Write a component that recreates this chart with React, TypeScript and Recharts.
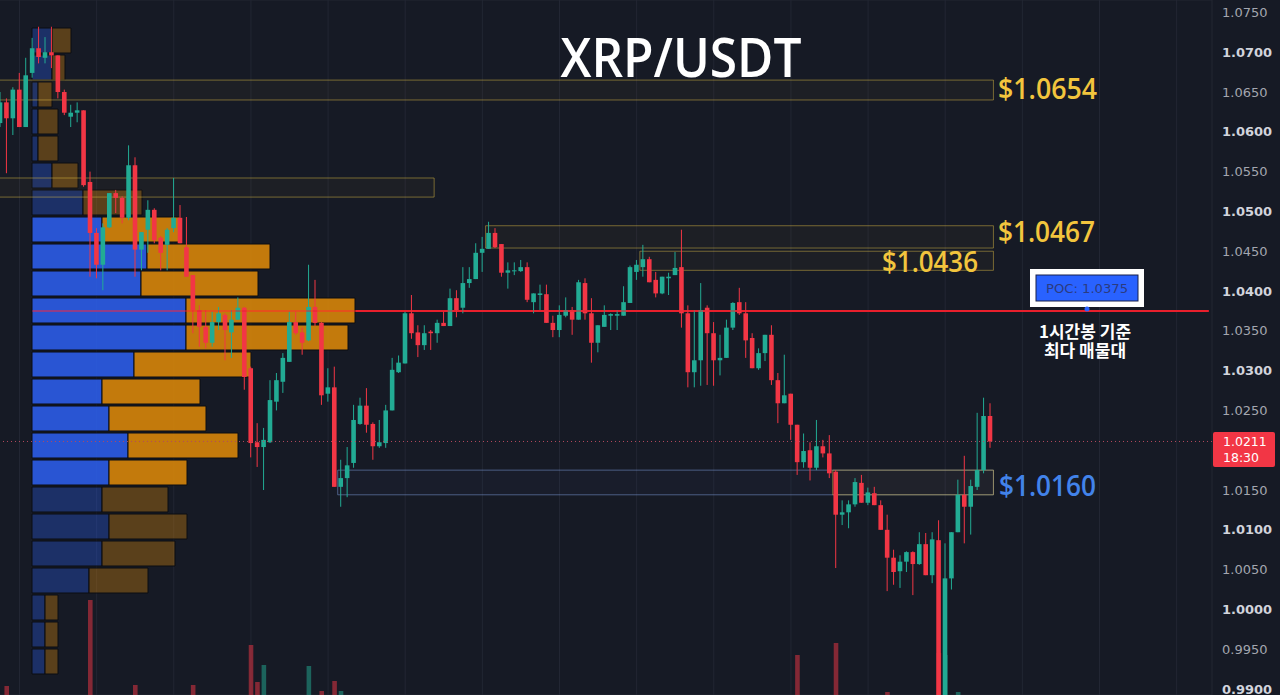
import React from 'react';
import {
  ComposedChart,
  BarChart,
  Bar,
  Cell,
  XAxis,
  YAxis,
  CartesianGrid,
  ReferenceArea,
  ReferenceLine,
} from 'recharts';

// 1h XRP/USDT candles (oldest first)
const opens = [
  1.0611, 1.0637, 1.0617, 1.0653, 1.0606, 1.0674, 1.0705, 1.0693, 1.07, 1.0696,
  1.065, 1.0619, 1.0624, 1.0627, 1.0537, 1.0473, 1.0433, 1.048, 1.0523, 1.0517,
  1.0492, 1.0558, 1.0452, 1.0477, 1.0502, 1.0467, 1.0458, 1.0479, 1.0492, 1.0455,
  1.042, 1.0376, 1.0355, 1.0335, 1.0361, 1.037, 1.0348, 1.0364, 1.0379, 1.0303,
  1.021, 1.0204, 1.021, 1.0261, 1.0286, 1.0311, 1.0361, 1.0348, 1.0338, 1.038,
  1.036, 1.0271, 1.0279, 1.0154, 1.0165, 1.0184, 1.0233, 1.0256, 1.0233, 1.0205,
  1.0209, 1.025, 1.0298, 1.0309, 1.0372, 1.0348, 1.0332, 1.0349, 1.0347, 1.036,
  1.0356, 1.0391, 1.0379, 1.041, 1.0415, 1.0448, 1.0453, 1.0473, 1.0459, 1.0423,
  1.0425, 1.0425, 1.043, 1.0386, 1.0395, 1.0396, 1.036, 1.0351, 1.0369, 1.0376,
  1.0364, 1.041, 1.0372, 1.0335, 1.0355, 1.0369, 1.0369, 1.0369, 1.0385, 1.0424,
  1.043, 1.044, 1.0414, 1.0397, 1.0416, 1.042, 1.043, 1.0372, 1.0298, 1.0313,
  1.0379, 1.0347, 1.0313, 1.0316, 1.0354, 1.0386, 1.0372, 1.0341, 1.0303, 1.0322,
  1.0345, 1.0288, 1.0259, 1.0271, 1.0232, 1.0185, 1.02, 1.0178, 1.0205, 1.0196,
  1.0173, 1.0119, 1.0122, 1.0132, 1.0159, 1.0134, 1.0146, 1.0131, 1.01, 1.0065,
  1.0048, 1.006, 1.0072, 1.0057, 1.0082, 1.0043, 1.0087, 0.9892, 1.0039, 1.0097,
  1.0144, 1.0129, 1.0154, 1.0175, 1.0243,
];
const highs = [
  1.065, 1.0642, 1.0656, 1.0674, 1.0693, 1.0718, 1.0732, 1.0719, 1.0732, 1.0696,
  1.0653, 1.0634, 1.0637, 1.0627, 1.055, 1.0479, 1.0485, 1.0523, 1.0527, 1.0519,
  1.0583, 1.0568, 1.0474, 1.0514, 1.0504, 1.0469, 1.0479, 1.0542, 1.0508, 1.0493,
  1.042, 1.0382, 1.0376, 1.0374, 1.038, 1.0372, 1.0376, 1.0392, 1.038, 1.0305,
  1.0234, 1.0228, 1.0288, 1.0297, 1.0322, 1.0374, 1.0374, 1.0354, 1.0433, 1.0414,
  1.0361, 1.0303, 1.0305, 1.0188, 1.0204, 1.0257, 1.0266, 1.0278, 1.0235, 1.0238,
  1.0257, 1.0316, 1.0319, 1.0374, 1.0395, 1.0357, 1.0357, 1.0351, 1.0364, 1.0374,
  1.0403, 1.0401, 1.043, 1.043, 1.046, 1.0468, 1.0487, 1.0479, 1.0459, 1.0436,
  1.0436, 1.0439, 1.0436, 1.0397, 1.0408, 1.0408, 1.0369, 1.0382, 1.0392, 1.038,
  1.0414, 1.0416, 1.0391, 1.0357, 1.0382, 1.0372, 1.0376, 1.0406, 1.0432, 1.0439,
  1.0458, 1.0443, 1.0424, 1.0418, 1.0423, 1.0449, 1.0477, 1.0382, 1.0376, 1.041,
  1.0382, 1.0361, 1.0345, 1.0364, 1.0386, 1.0404, 1.0386, 1.0347, 1.0328, 1.0345,
  1.0357, 1.0297, 1.032, 1.0271, 1.0232, 1.0221, 1.021, 1.0238, 1.0213, 1.0219,
  1.0175, 1.0137, 1.0137, 1.0165, 1.0169, 1.0153, 1.0154, 1.0137, 1.0119, 1.0075,
  1.0068, 1.0073, 1.0073, 1.0097, 1.0096, 1.0097, 1.0112, 1.0083, 1.0097, 1.0163,
  1.0193, 1.0163, 1.0247, 1.0266, 1.0259,
];
const lows = [
  1.0606, 1.0548, 1.0596, 1.0606, 1.0606, 1.0668, 1.0686, 1.0686, 1.068, 1.0642,
  1.0621, 1.0606, 1.0612, 1.0531, 1.0418, 1.0416, 1.0401, 1.0479, 1.0498, 1.0485,
  1.0489, 1.0418, 1.0426, 1.0448, 1.046, 1.0426, 1.0426, 1.0474, 1.046, 1.0418,
  1.0347, 1.033, 1.0328, 1.033, 1.0351, 1.0313, 1.0316, 1.0364, 1.0276, 1.0191,
  1.0179, 1.015, 1.0209, 1.025, 1.0272, 1.0311, 1.0345, 1.032, 1.0337, 1.0356,
  1.0257, 1.0261, 1.0154, 1.0129, 1.0141, 1.0178, 1.0232, 1.0222, 1.0188, 1.0203,
  1.0203, 1.025, 1.0297, 1.0309, 1.034, 1.0317, 1.0326, 1.0326, 1.0335, 1.0356,
  1.0356, 1.0367, 1.0372, 1.0404, 1.0415, 1.0424, 1.0453, 1.0454, 1.0418, 1.0403,
  1.042, 1.0424, 1.0386, 1.0372, 1.0376, 1.036, 1.0342, 1.0342, 1.0367, 1.0345,
  1.0364, 1.0364, 1.031, 1.0323, 1.0355, 1.0351, 1.0351, 1.0369, 1.0385, 1.0414,
  1.0418, 1.0411, 1.0392, 1.0396, 1.0395, 1.042, 1.0354, 1.0279, 1.0279, 1.0281,
  1.0282, 1.0281, 1.0294, 1.0316, 1.0351, 1.037, 1.0316, 1.0303, 1.0301, 1.0312,
  1.0282, 1.0234, 1.0259, 1.0213, 1.0169, 1.0178, 1.0162, 1.0175, 1.0191, 1.0165,
  1.0052, 1.0106, 1.0102, 1.0129, 1.0134, 1.0131, 1.0131, 1.01, 1.0023, 1.0031,
  1.0027, 1.0047, 1.0018, 1.0056, 1.0043, 1.0033, 0.989, 0.989, 1.0025, 1.0097,
  1.0083, 1.0094, 1.015, 1.0171, 1.0203,
];
const closes = [
  1.0637, 1.0617, 1.0653, 1.0606, 1.0671, 1.0705, 1.0694, 1.07, 1.0696, 1.065,
  1.0624, 1.0624, 1.0627, 1.0533, 1.0473, 1.0433, 1.048, 1.0523, 1.0517, 1.0492,
  1.0558, 1.0452, 1.0474, 1.0502, 1.0464, 1.0448, 1.0477, 1.0492, 1.046, 1.0418,
  1.0376, 1.0355, 1.0335, 1.0361, 1.0372, 1.0351, 1.0364, 1.0379, 1.0292, 1.0209,
  1.0204, 1.0213, 1.0263, 1.0288, 1.0316, 1.0361, 1.0347, 1.0335, 1.038, 1.036,
  1.0269, 1.0279, 1.0154, 1.0165, 1.0181, 1.0238, 1.0256, 1.0232, 1.0205, 1.021,
  1.025, 1.0301, 1.031, 1.0372, 1.0347, 1.0332, 1.0347, 1.0347, 1.036, 1.0356,
  1.0391, 1.0376, 1.041, 1.0415, 1.0448, 1.0453, 1.0473, 1.0455, 1.0423, 1.0426,
  1.0426, 1.043, 1.0389, 1.0397, 1.0397, 1.036, 1.0351, 1.037, 1.0376, 1.0364,
  1.0411, 1.0372, 1.0335, 1.0357, 1.037, 1.0371, 1.0371, 1.0386, 1.043, 1.0433,
  1.044, 1.0411, 1.0397, 1.0418, 1.0418, 1.0429, 1.0372, 1.0298, 1.0313, 1.0376,
  1.0347, 1.0313, 1.0316, 1.0354, 1.0385, 1.0372, 1.0338, 1.0303, 1.0322, 1.0345,
  1.0288, 1.0259, 1.0269, 1.0232, 1.0185, 1.0199, 1.0178, 1.0205, 1.0196, 1.0171,
  1.0119, 1.0122, 1.0132, 1.016, 1.0134, 1.0147, 1.0131, 1.01, 1.0065, 1.0047,
  1.006, 1.0072, 1.0057, 1.0082, 1.0043, 1.0088, 0.9892, 1.0039, 1.0097, 1.0144,
  1.0129, 1.0155, 1.0175, 1.0243, 1.0211,
];

// only the volume bars whose tops reach into the visible pane
const volumeAt = [1, 14, 21, 30, 39, 40, 41, 48, 50, 52, 53, 124, 130, 138, 146, 147, 149];
const volumeValues = [9, 95, 10, 10, 50, 13, 30, 29, 4, 14, 4, 40, 52, 3, 42, 40, 3];

const priceTicks = [
  0.99, 0.995, 1.0, 1.005, 1.01, 1.015, 1.02, 1.025, 1.03, 1.035, 1.04, 1.045,
  1.05, 1.055, 1.06, 1.065, 1.07, 1.075,
];
const gridCandles = [3, 15, 27, 39, 51, 63, 75, 87, 99, 111, 123, 135, 147, 159, 171, 183];

// volume profile rows, top row (1.0732) first
const profileBuy = [20, 20, 6, 6, 6, 20, 51, 70, 115, 109, 154, 154, 102, 70, 77, 96, 77, 70, 77, 70, 57, 13, 13, 13];
const profileSell = [19, 13, 14, 20, 20, 26, 59, 78, 123, 117, 169, 162, 117, 98, 97, 110, 78, 66, 78, 73, 59, 13, 13, 13];
const VALUE_AREA = [7, 16];

const zones = [
  { from: 0, to: 154, top: 1.0665, bottom: 1.064, kind: 'yellow' },
  { from: 0, to: 67, top: 1.0542, bottom: 1.0518, kind: 'yellow' },
  { from: 76, to: 154, top: 1.0482, bottom: 1.0454, kind: 'yellow' },
  { from: 100, to: 154, top: 1.045, bottom: 1.0426, kind: 'yellow' },
  { from: 53, to: 154, top: 1.0175, bottom: 1.0144, kind: 'blue' },
  { from: 130, to: 154, top: 1.0175, bottom: 1.0144, kind: 'yellow' },
];

const POC = 1.0375;
const POC_FROM = 5;
const LAST_PRICE = 1.0211;

const SLOTS = 189;
const W = 1283;
const H = 695;
const BG = '#161a25';
const UP = '#22ab94';
const DOWN = '#f23645';
const POC_RED = '#e8202c';
const BODY_W = 4.6;
const PRICE_DOMAIN = [0.98925, 1.07656];

const data = Array.from({ length: SLOTS }, (_, i) => {
  if (i >= opens.length) return { i };
  const v = volumeAt.indexOf(i);
  return {
    i,
    open: opens[i],
    high: highs[i],
    low: lows[i],
    close: closes[i],
    range: [lows[i], highs[i]],
    vol: v >= 0 ? volumeValues[v] : null,
  };
});

const profileData = profileBuy.map((b, k) => ({
  row: k,
  buy: b,
  sell: profileSell[k],
  dim: k < VALUE_AREA[0] || k > VALUE_AREA[1],
}));

const Candle = (props: any) => {
  const { x, y, width, height, payload } = props;
  if (!payload || payload.open == null || !isFinite(y) || !isFinite(height)) return null;
  const { open, close, high, low } = payload;
  const top = Math.min(y, y + height);
  const h = Math.abs(height);
  const pxPer = high > low ? h / (high - low) : 0;
  const bodyTop = top + (high - Math.max(open, close)) * pxPer;
  const bodyH = Math.max(1, Math.abs(open - close) * pxPer);
  const color = close >= open ? UP : DOWN;
  const cx = x + width / 2;
  return (
    <g>
      <line x1={cx} x2={cx} y1={top} y2={top + h} stroke={color} strokeWidth={1} />
      <rect x={cx - BODY_W / 2} y={bodyTop} width={BODY_W} height={bodyH} fill={color} />
    </g>
  );
};

const PriceTick = (props: any) => {
  const { x, y, payload } = props;
  const major = Math.round(payload.value * 1000) % 10 === 0;
  return (
    <text
      x={x}
      y={y}
      dy={4.5}
      textAnchor="start"
      fill={major ? '#d1d4dc' : '#a3a6af'}
      fontWeight={major ? 700 : 400}
      fontSize={13}
      fontFamily="'DejaVu Sans', sans-serif"
    >
      {payload.value.toFixed(4)}
    </text>
  );
};

const layer: React.CSSProperties = { position: 'absolute', left: -3, top: 0 };
const margin = { top: 0, right: 0, bottom: 0, left: 0 };
const pocSegment = [
  { x: POC_FROM, y: POC },
  { x: SLOTS - 1, y: POC },
];

const App: React.FC = () => {
  return (
    <div
      style={{
        position: 'absolute',
        left: 0,
        top: 0,
        width: 1280,
        height: 695,
        overflow: 'hidden',
        background: BG,
      }}
    >
      {/* bottom layer: grid and the POC line */}
      <div style={layer}>
        <ComposedChart width={W} height={H} data={data} margin={margin}>
          <CartesianGrid stroke="#222633" strokeWidth={1} />
          <XAxis dataKey="i" hide ticks={gridCandles} interval={0} />
          <YAxis orientation="right" width={68} domain={PRICE_DOMAIN} ticks={priceTicks} allowDataOverflow tick={false} axisLine={false} tickLine={false} />
          <ReferenceLine segment={pocSegment} stroke={POC_RED} strokeWidth={2} />
          <Bar dataKey="range" isAnimationActive={false} shape={() => null} />
        </ComposedChart>
      </div>

      {/* middle layer: volume profile (rows from 1.0732 down to 0.9918) */}
      <div style={layer}>
        <BarChart
          width={W}
          height={H}
          data={profileData}
          layout="vertical"
          margin={{ top: 27, right: 68, bottom: 20, left: 0 }}
          barCategoryGap={1}
        >
          <XAxis type="number" domain={[-35, 1180]} hide allowDataOverflow />
          <YAxis type="category" dataKey="row" hide />
          <Bar dataKey="buy" stackId="vp" barSize={25} isAnimationActive={false} stroke="#0b0d12" strokeWidth={1}>
            {profileData.map((d) => (
              <Cell key={`b-${d.row}`} fill="#2c5ff0" fillOpacity={d.dim ? 0.33 : 0.86} />
            ))}
          </Bar>
          <Bar dataKey="sell" stackId="vp" barSize={25} isAnimationActive={false} stroke="#0b0d12" strokeWidth={1}>
            {profileData.map((d) => (
              <Cell key={`s-${d.row}`} fill="#e08a08" fillOpacity={d.dim ? 0.34 : 0.86} />
            ))}
          </Bar>
        </BarChart>
      </div>

      {/* top layer: zones, candles, volume, price axis */}
      <div style={layer}>
        <ComposedChart width={W} height={H} data={data} margin={margin}>
          <XAxis dataKey="i" hide />
          <XAxis xAxisId="volx" dataKey="i" hide />
          <YAxis
            orientation="right"
            width={68}
            domain={PRICE_DOMAIN}
            ticks={priceTicks}
            interval={0}
            allowDataOverflow
            axisLine={false}
            tickLine={false}
            tickMargin={4}
            tick={<PriceTick />}
          />
          <YAxis yAxisId="vol" hide domain={[0, 695]} />

          {zones.map((z, k) => (
            <ReferenceArea
              key={`zone-${k}`}
              x1={z.from}
              x2={z.to}
              y1={z.bottom}
              y2={z.top}
              ifOverflow="hidden"
              fill={z.kind === 'blue' ? 'rgba(90,120,200,0.08)' : 'rgba(240,200,60,0.06)'}
              stroke={z.kind === 'blue' ? 'rgba(120,150,210,0.55)' : 'rgba(235,200,70,0.45)'}
              strokeWidth={1}
            />
          ))}

          {/* the POC line shows through the profile rows, tinted */}
          <ReferenceLine segment={pocSegment} stroke={POC_RED} strokeOpacity={0.45} strokeWidth={2} />
          <ReferenceLine y={LAST_PRICE} stroke="#b34a5e" strokeDasharray="1 3" strokeWidth={1} />

          <Bar xAxisId="volx" yAxisId="vol" dataKey="vol" barSize={4.6} isAnimationActive={false}>
            {data.map((d: any, k) => (
              <Cell key={`v-${k}`} fill={d.close >= d.open ? UP : DOWN} fillOpacity={0.5} />
            ))}
          </Bar>
          <Bar dataKey="range" barSize={6} isAnimationActive={false} shape={(p: any) => <Candle {...p} />} />
        </ComposedChart>
      </div>

      <svg
        width={1280}
        height={695}
        style={{ position: 'absolute', left: 0, top: 0, pointerEvents: 'none' }}
      >
        <text
          x={681}
          y={77}
          textAnchor="middle"
          fill="#ffffff"
          fontSize={54}
          fontWeight={600}
          fontFamily="'Open Sans', sans-serif"
          textLength={241}
          lengthAdjust="spacingAndGlyphs"
        >
          XRP/USDT
        </text>

        <g fontFamily="'Open Sans', sans-serif" fontSize={29} fontWeight={600}>
          <text x={998} y={99} fill="#f2c53d" textLength={99} lengthAdjust="spacingAndGlyphs">$1.0654</text>
          <text x={998} y={242} fill="#f2c53d" textLength={97} lengthAdjust="spacingAndGlyphs">$1.0467</text>
          <text x={882} y={272} fill="#f2c53d" textLength={96} lengthAdjust="spacingAndGlyphs">$1.0436</text>
          <text x={999} y={496} fill="#4283ea" textLength={97} lengthAdjust="spacingAndGlyphs">$1.0160</text>
        </g>

        <rect x={1030} y={269} width={114} height={38} fill="#ffffff" />
        <rect x={1036} y={275} width={102} height={26} fill="#2962ff" stroke="#18214a" strokeWidth={1} />
        <text
          x={1087}
          y={293}
          textAnchor="middle"
          fill="#2b3b80"
          fontSize={12}
          fontFamily="'DejaVu Sans', sans-serif"
          textLength={82}
          lengthAdjust="spacingAndGlyphs"
        >
          POC: 1.0375
        </text>
        <circle cx={1087} cy={309} r={2.5} fill="#2962ff" />

        <g fontFamily="'Noto Sans CJK KR', sans-serif" fontSize={17} fontWeight={700} fill="#ffffff" textAnchor="middle">
          <text x={1085} y={338}>1시간봉 기준</text>
          <text x={1085} y={357}>최다 매물대</text>
        </g>

        <rect x={1213} y={432} width={62} height={35} rx={2} fill={DOWN} />
        <g fontFamily="'DejaVu Sans', sans-serif" fontSize={12.5} fill="#ffffff">
          <text x={1223} y={446}>{LAST_PRICE.toFixed(4)}</text>
          <text x={1223} y={462}>18:30</text>
        </g>
      </svg>
    </div>
  );
};

export default App;
